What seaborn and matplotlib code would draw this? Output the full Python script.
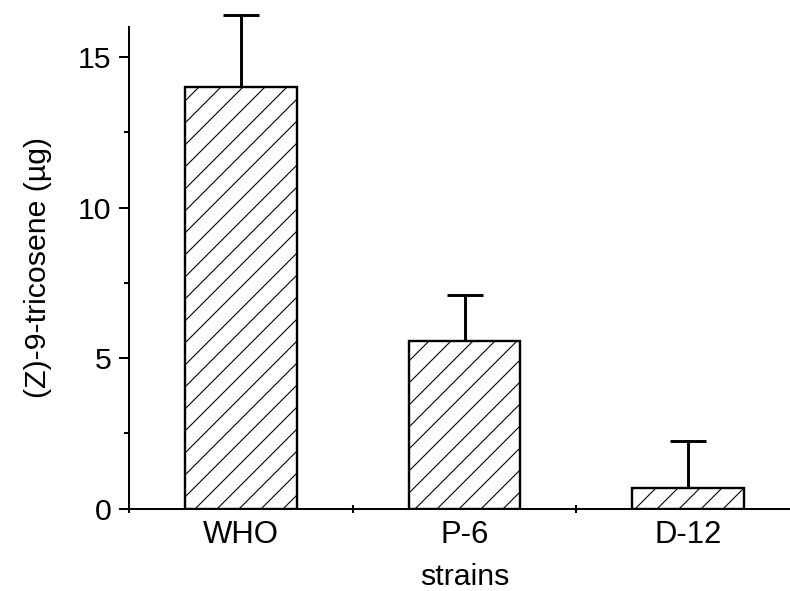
import numpy as np
import pandas as pd
import seaborn as sns
from matplotlib import pyplot as plt
from matplotlib.ticker import MultipleLocator, FixedLocator

strains = ["WHO", "P-6", "D-12"]
tricosene = [14.02, 5.58, 0.68]
err_up = [2.39, 1.52, 1.56]

df = pd.DataFrame({"strain": strains, "amount": tricosene})

sns.set_theme(style="ticks")
plt.rcParams["font.family"] = ["Liberation Sans", "DejaVu Sans"]
plt.rcParams["hatch.linewidth"] = 0.6
plt.rcParams["hatch.color"] = "black"
plt.rcParams["axes.labelcolor"] = "black"
plt.rcParams["text.color"] = "black"

fig = plt.figure(figsize=(790 / 132, 591 / 132), dpi=132)
ax = fig.add_axes([129 / 790, 82.3 / 591, 671 / 790, 481.7 / 591])

sns.barplot(data=df, x="strain", y="amount", ax=ax, color="white",
            edgecolor="black", linewidth=1.3, width=0.5, hatch="//",
            errorbar=None)

# only upward error bars, no cap at the bar top
eb = ax.errorbar(np.arange(len(strains)), tricosene,
                 yerr=[np.zeros(len(strains)), err_up], fmt="none",
                 ecolor="black", elinewidth=1.6, capsize=9.8, capthick=1.6)
eb[1][0].set_visible(False)
for art in list(eb[1]) + list(eb[2]):
    art.set_clip_on(False)

ax.set_xlim(-0.5, 2.5)
ax.set_ylim(0, 16)
ax.yaxis.set_major_locator(MultipleLocator(5))
ax.yaxis.set_minor_locator(MultipleLocator(2.5))
ax.xaxis.set_minor_locator(FixedLocator([-0.5, 0.5, 1.5]))

sns.despine(ax=ax)
for s in ["left", "bottom"]:
    ax.spines[s].set_linewidth(1.1)
    ax.spines[s].set_color("black")

ax.tick_params(axis="y", which="major", direction="out", length=5.5,
               width=1.1, labelsize=16.5, pad=4, colors="black")
ax.tick_params(axis="y", which="minor", direction="out", length=3,
               width=1.1, colors="black")
ax.tick_params(axis="x", which="major", length=0, labelsize=17, pad=6,
               colors="black")
ax.tick_params(axis="x", which="minor", direction="inout", length=4.5,
               width=1.1, colors="black")

ax.set_xlabel("strains", fontsize=16.5, labelpad=7)
ax.set_ylabel("(Z)-9-tricosene (µg)", fontsize=16.5, labelpad=14)

fig.savefig("out.png", dpi=132)
